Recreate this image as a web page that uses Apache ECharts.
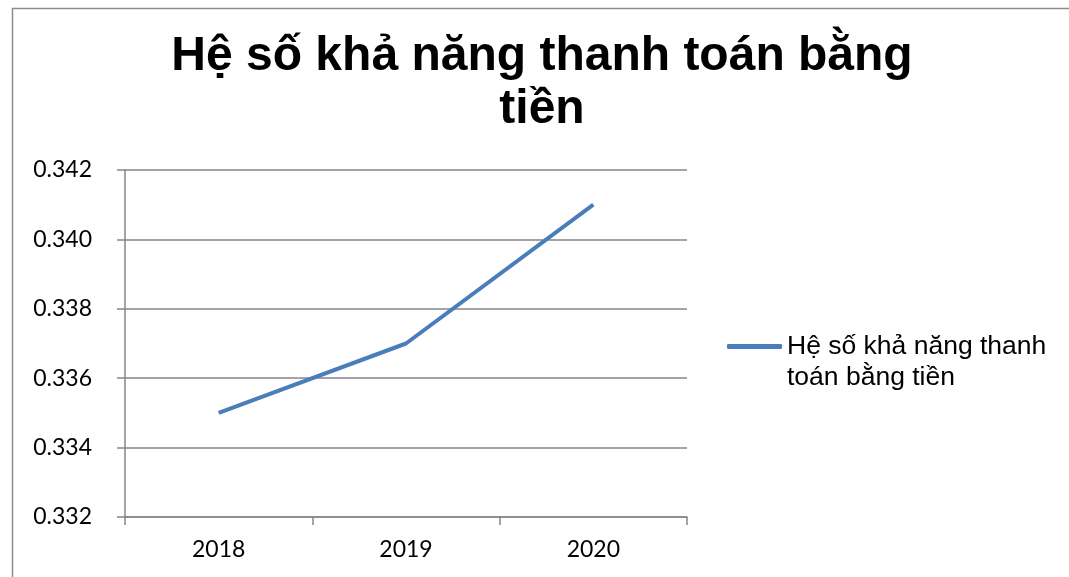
<!DOCTYPE html>
<html>
<head>
<meta charset="utf-8">
<script src="https://cdn.jsdelivr.net/npm/echarts@6/dist/echarts.min.js"></script>
<style>
  html, body { margin: 0; padding: 0; background: #fff; }
  #chart { width: 1069px; height: 577px; }
</style>
</head>
<body>
<div id="chart"></div>
<script>
// Cash ratio by year
const years = ['2018', '2019', '2020'];
const cashRatio = [0.335, 0.337, 0.341];
const seriesName = 'Hệ số khả năng thanh toán bằng tiền';
const titleText = 'Hệ số khả năng thanh toán bằng\ntiền';
// legend label wrapped onto two lines; the leading blank line keeps the
// swatch level with the first line of text
const legendLabel = '\nHệ số khả năng thanh\ntoán bằng tiền';

const chart = echarts.init(document.getElementById('chart'));

chart.setOption({
  animation: false,
  backgroundColor: '#ffffff',
  graphic: [{
    type: 'rect',
    left: 10, top: 6,
    shape: { width: 1100, height: 620 },
    style: { fill: 'none', stroke: '#8c8c8c', lineWidth: 1.5 },
    silent: true
  }],
  title: {
    text: titleText,
    left: 537,
    textAlign: 'center',
    top: 25,
    textStyle: {
      fontFamily: 'Liberation Sans, Arial, sans-serif',
      fontWeight: 'bold',
      fontSize: 48,
      lineHeight: 53,
      color: '#000'
    }
  },
  legend: {
    left: 722,
    top: 295,
    orient: 'vertical',
    icon: 'roundRect',
    itemWidth: 55,
    itemHeight: 5,
    formatter: function () { return legendLabel; },
    textStyle: {
      fontFamily: 'Liberation Sans, Arial, sans-serif',
      fontSize: 26.5,
      lineHeight: 31,
      color: '#000'
    }
  },
  grid: { left: 125, right: 382, top: 170, bottom: 60 },
  xAxis: {
    type: 'category',
    data: years,
    boundaryGap: true,
    axisLine: { lineStyle: { color: '#868686', width: 1.5 } },
    axisTick: { show: true, length: 8, lineStyle: { color: '#868686', width: 1.5 } },
    axisLabel: {
      margin: 21,
      fontFamily: 'Lato, Open Sans, sans-serif',
      fontSize: 23,
      color: '#000'
    }
  },
  yAxis: {
    type: 'value',
    min: 0.332,
    max: 0.342,
    interval: 0.002,
    axisLine: { show: true, lineStyle: { color: '#868686', width: 1.5 } },
    axisTick: { show: true, inside: false, length: 8, lineStyle: { color: '#868686', width: 1.5 } },
    splitLine: { lineStyle: { color: '#868686', width: 1.5 } },
    axisLabel: {
      margin: 33,
      fontFamily: 'Lato, Open Sans, sans-serif',
      fontSize: 23,
      color: '#000',
      formatter: function (v) { return v.toFixed(3); }
    }
  },
  series: [{
    name: seriesName,
    type: 'line',
    data: cashRatio,
    symbol: 'none',
    lineStyle: { color: '#4a7ebb', width: 4 },
    itemStyle: { color: '#4a7ebb' }
  }]
});
</script>
</body>
</html>
